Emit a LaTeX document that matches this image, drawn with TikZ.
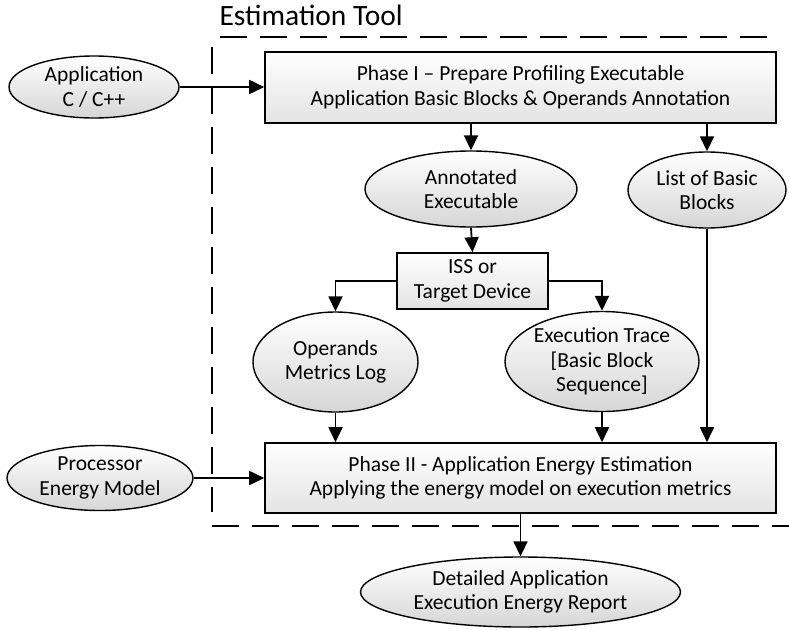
\documentclass[tikz,border=0pt]{standalone}
\usepackage{fontspec}
\setmainfont{Carlito}
\usetikzlibrary{shapes.geometric,arrows.meta,positioning}

\tikzset{
  blob/.style={ellipse, draw, line width=1.4pt, top color=white, bottom color=black!16,
    inner sep=0pt, align=center, font=\fontsize{21.5}{24.5}\selectfont},
  phasebox/.style={rectangle, draw, line width=1.6pt, top color=white, bottom color=black!11,
    inner sep=0pt, align=center, font=\fontsize{21.5}{24.5}\selectfont},
  flow/.style={-{Triangle[length=15pt,width=14pt]}, line width=1.8pt},
  frame/.style={line width=1.5pt, dash pattern=on 27pt off 13pt}
}

\begin{document}
\begin{tikzpicture}[x=1pt,y=-1pt]
\useasboundingbox (0,0) rectangle (789,629);
% tool frame
\node[anchor=west, font=\fontsize{29.5}{32}\selectfont] (title) at (216,15) {Estimation Tool};
\draw[frame] (220,37) -- (776,37);
\draw[frame] (212,47) -- (212,512);
\draw[frame] (212,526) -- (789,526);
% inputs
\node[blob, minimum width=170, minimum height=62] (app) at (94,87) {Application\\C / C++};
\node[blob, minimum width=186, minimum height=65] (proc) at (100,478) {Processor\\Energy Model};
% phase I
\node[phasebox, minimum width=511, minimum height=71] (phaseI) at (520.5,87.5)
  {Phase I -- Prepare Profiling Executable\\Application Basic Blocks \& Operands Annotation};
\node[blob, minimum width=212, minimum height=76] (annot) at (471,189) {Annotated\\Executable};
\node[blob, minimum width=158, minimum height=76] (list) at (707,190) {List of Basic\\Blocks};
\node[phasebox, minimum width=151, minimum height=56] (iss) at (472.5,281) {ISS or\\Target Device};
\node[blob, minimum width=165, minimum height=100] (oper) at (335.5,362) {Operands\\Metrics Log};
\node[blob, minimum width=194, minimum height=100] (trace) at (602,361.5)
  {Execution Trace\\{[}Basic Block\\Sequence{]}};
% phase II
\node[phasebox, minimum width=511, minimum height=70] (phaseII) at (520.5,478)
  {Phase II - Application Energy Estimation\\Applying the energy model on execution metrics};
\node[blob, minimum width=320, minimum height=70] (report) at (520.5,592)
  {Detailed Application\\Execution Energy Report};
% arrows
\draw[flow] (app.east) -- (app.east -| phaseI.west);
\draw[flow] (phaseI.south -| annot.north) -- (annot.north);
\draw[flow] (phaseI.south -| list.north) -- (list.north);
\draw[flow] (annot.south) -- (iss.north);
\draw[flow] (iss.west) -| (oper.north);
\draw[flow] (iss.east) -| (trace.north);
\draw[flow] (oper.south) -- (oper.south |- phaseII.north);
\draw[flow] (trace.south) -- (trace.south |- phaseII.north);
\draw[flow] (list.south) -- (list.south |- phaseII.north);
\draw[flow] (proc.east) -- (proc.east -| phaseII.west);
\draw[flow] (phaseII.south) -- (report.north);
\end{tikzpicture}
\end{document}
